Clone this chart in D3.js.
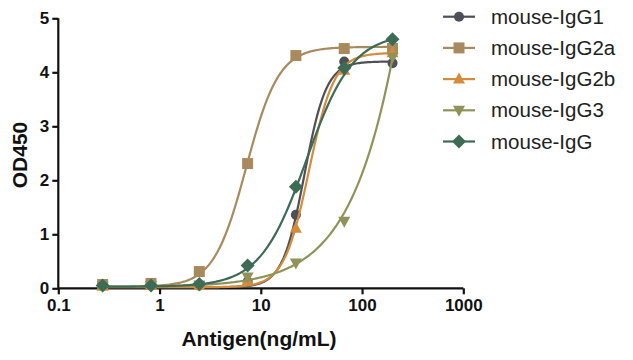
<!DOCTYPE html>
<html><head><meta charset="utf-8">
<script src="https://cdn.jsdelivr.net/npm/d3@7"></script>
<style>body{margin:0;background:#fff}svg{display:block}</style>
</head><body>
<svg id="c" width="633" height="360"></svg>
<script>
// ---- data ----
const concentrations = [0.274, 0.823, 2.47, 7.41, 22.2, 66.7, 200];
const seriesNames = ["mouse-IgG1", "mouse-IgG2a", "mouse-IgG2b", "mouse-IgG3", "mouse-IgG"];
const igg1  = [0.05, 0.06, 0.05, 0.12, 1.36, 4.20, 4.17];
const igg2a = [0.07, 0.09, 0.31, 2.31, 4.31, 4.44, 4.44];
const igg2b = [0.04, 0.05, 0.05, 0.14, 1.11, 4.04, 4.36];
const igg3  = [0.04, 0.05, 0.06, 0.21, 0.47, 1.24, 4.28];
const igg   = [0.05, 0.05, 0.08, 0.42, 1.88, 4.08, 4.61];
// fitted 4PL curves: [bottom, top, EC50, hill]
const fitIgG1  = [0.02, 4.20, 27, 4.0];
const fitIgG2a = [0.03, 4.47, 7.2, 2.7];
const fitIgG2b = [0.02, 4.36, 30, 3.5];
const fitIgG3  = [0.02, 50, 1806, 1.08];
const fitIgG   = [0.03, 4.72, 28.2, 1.9];
const xTicks = [0.1, 1, 10, 100, 1000];
const xTickLabels = ["0.1", "1", "10", "100", "1000"];
const yTicks = [0, 1, 2, 3, 4, 5];
const colors = ["#4e5057", "#a88a5e", "#d48c3c", "#8f935a", "#3e6b56"];

const series = [
  {name: seriesNames[0], values: igg1,  fit: fitIgG1,  color: colors[0], shape: "circle"},
  {name: seriesNames[1], values: igg2a, fit: fitIgG2a, color: colors[1], shape: "square"},
  {name: seriesNames[2], values: igg2b, fit: fitIgG2b, color: colors[2], shape: "triangle"},
  {name: seriesNames[3], values: igg3,  fit: fitIgG3,  color: colors[3], shape: "triangleDown"},
  {name: seriesNames[4], values: igg,   fit: fitIgG,   color: colors[4], shape: "diamond"}
];

const svg = d3.select("#c");
const x = d3.scaleLog().domain([0.1, 1000]).range([58.3, 463.3]);
const y = d3.scaleLinear().domain([0, 5]).range([288.3, 18.3]);

function markerPath(shape) {
  if (shape === "circle") return d3.symbol(d3.symbolCircle, 80)();
  if (shape === "square") return "M-5.5,-5.5H5.5V5.5H-5.5Z";
  if (shape === "triangle") return "M0,-6.5L6,4.5H-6Z";
  if (shape === "triangleDown") return "M0,6.5L6,-4.5H-6Z";
  if (shape === "diamond") return "M0,-7L7,0L0,7L-7,0Z";
}

// axes
const yAxis = d3.axisLeft(y).tickValues(yTicks).tickSize(6).tickPadding(3).tickFormat(d3.format("d"));
const gy = svg.append("g").attr("transform", "translate(58.3,0)").call(yAxis);
const xAxis = d3.axisBottom(x).tickValues(xTicks).tickSize(6).tickPadding(5).tickFormat((d, i) => xTickLabels[i]);
const gx = svg.append("g").attr("transform", "translate(0,288.3)").call(xAxis);
[gx, gy].forEach(g => {
  g.select(".domain").attr("stroke", "#111").attr("stroke-width", 2.2);
  g.selectAll(".tick line").attr("stroke", "#111").attr("stroke-width", 2.2);
  g.selectAll("text").attr("fill", "#111").attr("font-family", "Liberation Sans, Arial, sans-serif")
    .attr("font-weight", "bold").attr("font-size", 17);
});
gy.select(".domain").attr("d", "M0,18.3V288.3");
gx.select(".domain").attr("d", "M58.3,0H463.3");

// titles
svg.append("text").attr("x", 259).attr("y", 346).attr("text-anchor", "middle")
  .attr("font-family", "Liberation Sans, Arial, sans-serif").attr("font-weight", "bold")
  .attr("font-size", 21).attr("fill", "#111").text("Antigen(ng/mL)");
svg.append("text").attr("transform", "translate(27,155) rotate(-90)").attr("text-anchor", "middle")
  .attr("font-family", "Liberation Sans, Arial, sans-serif").attr("font-weight", "bold")
  .attr("font-size", 21).attr("fill", "#111").text("OD450");

// curves
const lo = concentrations[0], hi = concentrations[concentrations.length - 1];
const samples = d3.range(0, 201).map(i => Math.exp(Math.log(lo) + (Math.log(hi) - Math.log(lo)) * i / 200));
const line = d3.line().x(d => x(d[0])).y(d => y(d[1]));
series.forEach(s => {
  const [b, t, e, h] = s.fit;
  const pts = samples.map(c => [c, b + (t - b) / (1 + Math.pow(e / c, h))]);
  const g = svg.append("g");
  g.append("path").attr("d", line(pts)).attr("fill", "none").attr("stroke", s.color).attr("stroke-width", 2.2);
  g.selectAll("path.m").data(s.values).enter().append("path").attr("class", "m")
    .attr("d", markerPath(s.shape)).attr("fill", s.color)
    .attr("transform", (v, i) => `translate(${x(concentrations[i])},${y(v)})`);
});

// legend
const lg = svg.append("g");
series.forEach((s, i) => {
  const cy = 16.7 + i * 31.2;
  lg.append("line").attr("x1", 443).attr("x2", 475).attr("y1", cy).attr("y2", cy)
    .attr("stroke", s.color).attr("stroke-width", 2.2);
  lg.append("path").attr("d", markerPath(s.shape)).attr("fill", s.color)
    .attr("transform", `translate(459,${cy})`);
  lg.append("text").attr("x", 491).attr("y", cy + 7).attr("font-family", "Liberation Sans, Arial, sans-serif")
    .attr("font-size", 20.5).attr("fill", "#222").text(s.name);
});
</script>
</body></html>
